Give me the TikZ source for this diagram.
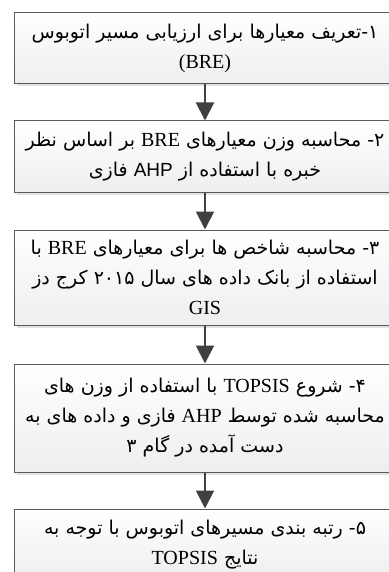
\documentclass[tikz,border=0pt]{standalone}
\usepackage{fontspec}
\setmainfont{Liberation Serif}
\newfontfamily\farsi[Script=Arabic]{DejaVu Sans}
\newfontfamily\latinsans{Liberation Sans}
\TeXXeTstate=1
\usetikzlibrary{arrows.meta,positioning,shadows}
\definecolor{boxline}{RGB}{90,90,90}
\definecolor{boxfill}{RGB}{236,238,240}
\definecolor{arrowgray}{RGB}{64,64,64}
\definecolor{shadowgray}{RGB}{226,226,226}
\newcommand{\fa}[1]{\beginR#1\endR}
\newcommand{\en}[1]{\beginL{\rmfamily\fontsize{20}{30}\selectfont #1}\endL}
\newcommand{\ensans}[1]{\beginL{\latinsans #1}\endL}
\tikzset{
    stepbox/.style={draw=boxline, line width=1pt, top color=white, bottom color=boxfill,
        minimum width=382pt, inner sep=0pt, align=center,
        font=\farsi\fontsize{19}{30}\selectfont,
        drop shadow={shadow xshift=3pt, shadow yshift=-3pt, fill=shadowgray, opacity=1}},
    flow/.style={draw=arrowgray, line width=2pt, -{Triangle[width=18pt,length=18pt]}}
}
\begin{document}
\begin{tikzpicture}
    \useasboundingbox (0,0) rectangle (388pt,-572pt);
    %Steps
    \node[stepbox, minimum height=70.5pt] (s1) at (205pt,-48.25pt)
        {\fa{۱-تعریف معیارها برای ارزیابی مسیر اتوبوس}\\ \en{(BRE)}};
    \node[stepbox, minimum height=71pt, below=36.5pt of s1] (s2)
        {\fa{۲- محاسبه وزن معیارهای \en{BRE} بر اساس نظر}\\
         \fa{خبره با استفاده از \ensans{AHP} فازی}};
    \node[stepbox, minimum height=95pt, below=37pt of s2] (s3)
        {\fa{۳- محاسبه شاخص ها برای معیارهای \en{BRE} با}\\
         \fa{استفاده از بانک داده های سال ۲۰۱۵ کرج دز}\\ \en{GIS}};
    \node[stepbox, minimum height=108pt, below=38pt of s3] (s4)
        {\fa{۴- شروع \en{TOPSIS} با استفاده از وزن های}\\
         \fa{محاسبه شده توسط \en{AHP} فازی و داده های به}\\
         \fa{دست آمده در گام ۳}};
    \node[stepbox, minimum height=71pt, below=36pt of s4] (s5)
        {\fa{۵- رتبه بندی مسیرهای اتوبوس با توجه به}\\
         \fa{نتایج \en{TOPSIS}}};
    %Arrows
    \draw[flow] (s1) -- (s2);
    \draw[flow] (s2) -- (s3);
    \draw[flow] (s3) -- (s4);
    \draw[flow] (s4) -- (s5);
\end{tikzpicture}
\end{document}
